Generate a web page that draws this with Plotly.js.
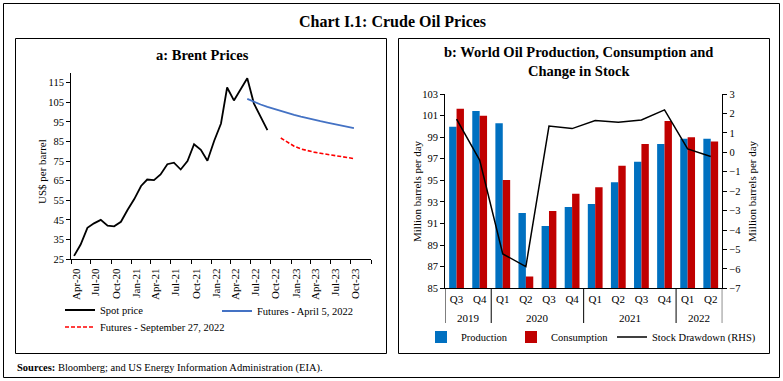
<!DOCTYPE html>
<html><head><meta charset="utf-8">
<script src="https://cdn.plot.ly/plotly-3.0.1.min.js"></script>
<style>html,body{margin:0;padding:0;background:#fff;}#chart{width:783px;height:381px;}</style>
</head><body><div id="chart"></div>
<script>
// ---- Panel a: Brent prices (US$ per barrel), monthly ----
const spotMonths = ['2020-04-15','2020-05-15','2020-06-15','2020-07-15','2020-08-15','2020-09-15','2020-10-15','2020-11-15','2020-12-15',
  '2021-01-15','2021-02-15','2021-03-15','2021-04-15','2021-05-15','2021-06-15','2021-07-15','2021-08-15','2021-09-15','2021-10-15','2021-11-15','2021-12-15',
  '2022-01-15','2022-02-15','2022-03-15','2022-04-15','2022-05-15','2022-06-15','2022-07-15','2022-08-15','2022-09-15'];
const spotPrice = [26.6,32.4,40.9,43.2,45.0,42.0,41.7,44.0,50.0,55.6,62.3,65.6,65.3,68.2,73.4,74.2,70.7,75.0,83.6,80.8,75.2,85.4,94.2,112.6,106.0,111.7,117.3,104.5,97.5,90.8];

const futAprMonths = ['2022-06-15','2022-07-15','2022-08-15','2022-09-15','2022-10-15','2022-11-15','2022-12-15',
  '2023-01-15','2023-02-15','2023-03-15','2023-04-15','2023-05-15','2023-06-15','2023-07-15','2023-08-15','2023-09-15','2023-10-15'];
const futAprPrice = [106.8,105.3,103.9,102.7,101.6,100.5,99.5,98.6,97.7,96.9,96.1,95.4,94.7,94.0,93.3,92.6,91.8];

const futSepMonths = ['2022-11-15','2022-12-15','2023-01-15','2023-02-15','2023-03-15','2023-04-15','2023-05-15','2023-06-15','2023-07-15','2023-08-15','2023-09-15','2023-10-15'];
const futSepPrice = [86.8,84.6,82.6,81.2,80.3,79.6,79.0,78.4,77.9,77.3,76.8,76.3];

const aTickVals = ['2020-04-01','2020-07-01','2020-10-01','2021-01-01','2021-04-01','2021-07-01','2021-10-01','2022-01-01','2022-04-01','2022-07-01','2022-10-01','2023-01-01','2023-04-01','2023-07-01','2023-10-01','2024-01-01'];
const aTickText = ['Apr-20','Jul-20','Oct-20','Jan-21','Apr-21','Jul-21','Oct-21','Jan-22','Apr-22','Jul-22','Oct-22','Jan-23','Apr-23','Jul-23','Oct-23',''];

// ---- Panel b: World oil production, consumption (mb/d) and stock drawdown (RHS) ----
const years    = ['2019','2019','2020','2020','2020','2020','2021','2021','2021','2021','2022','2022'];
const quarters = ['Q3','Q4','Q1','Q2','Q3','Q4','Q1','Q2','Q3','Q4','Q1','Q2'];
const production  = [99.97,101.43,100.28,91.98,90.78,92.54,92.81,94.82,96.73,98.37,98.85,98.85];
const consumption = [101.64,100.99,95.04,86.09,92.17,93.77,94.36,96.36,98.37,100.50,99.00,98.60];
const drawdown    = [1.71,-0.40,-5.23,-5.88,1.35,1.22,1.63,1.54,1.66,2.18,0.17,-0.22];

// unique category key per quarter, labelled with the quarter only
const periods = years.map((y, i) => y + ' ' + quarters[i]);

const W = 783, H = 381;
const px = v => v / W, py = v => 1 - v / H;
const FONT = 'Liberation Serif, Times New Roman, serif';
const f = (s, extra) => Object.assign({family: FONT, size: s, color: '#000'}, extra || {});

const traces = [
  {x: spotMonths, y: spotPrice, type: 'scatter', mode: 'lines', name: 'Spot price',
   line: {color: '#000', width: 1.8}, xaxis: 'x', yaxis: 'y', legend: 'legend'},
  {x: futAprMonths, y: futAprPrice, type: 'scatter', mode: 'lines', name: 'Futures - April 5, 2022',
   line: {color: '#4472C4', width: 1.8}, xaxis: 'x', yaxis: 'y', legend: 'legend2'},
  {x: futSepMonths, y: futSepPrice, type: 'scatter', mode: 'lines', name: 'Futures - September 27, 2022',
   line: {color: '#FF0000', width: 1.6, dash: '4px,2px'}, xaxis: 'x', yaxis: 'y', legend: 'legend3'},
  {x: periods, y: production, type: 'bar', name: 'Production',
   marker: {color: '#0070C0'}, xaxis: 'x2', yaxis: 'y2', legend: 'legend4'},
  {x: periods, y: consumption, type: 'bar', name: 'Consumption',
   marker: {color: '#C00000'}, xaxis: 'x2', yaxis: 'y2', legend: 'legend5'},
  {x: periods, y: drawdown, type: 'scatter', mode: 'lines', name: 'Stock Drawdown (RHS)',
   line: {color: '#000', width: 1.5}, xaxis: 'x2', yaxis: 'y3', legend: 'legend6'}
];

const legBase = (x, y) => ({x: px(x), y: py(y), xanchor: 'left', yanchor: 'middle', xref: 'paper', yref: 'paper',
  bgcolor: 'rgba(0,0,0,0)', borderwidth: 0, font: f(10.5), orientation: 'h'});

const axLine = {showline: true, linecolor: '#000', linewidth: 1, ticks: 'outside', ticklen: 4, tickcolor: '#000',
  showgrid: false, zeroline: false, tickfont: f(10.5)};

const ann = (text, x, y, size, extra) => Object.assign({text: text, x: px(x), y: py(y), xref: 'paper', yref: 'paper',
  xanchor: 'center', yanchor: 'middle', showarrow: false, font: f(size)}, extra || {});

// year group labels and dividers below the quarter labels (built from the years array)
const groups = [];
years.forEach((y, i) => {
  if (!groups.length || groups[groups.length - 1].year !== y) groups.push({year: y, start: i, end: i});
  else groups[groups.length - 1].end = i;
});
const yearAnns = groups.map(g => ({text: g.year, x: (g.start + g.end) / 2, xref: 'x2', y: py(318), yref: 'paper',
  xanchor: 'center', yanchor: 'middle', showarrow: false, font: f(11)}));
const dividerX = [groups[0].start - 0.5].concat(groups.map(g => g.end + 0.5));
const dividers = dividerX.map(x => ({type: 'line', xref: 'x2', yref: 'paper', x0: x, x1: x,
  y0: py(288.3), y1: py(323), line: {color: '#000', width: 1}}));

const layout = {
  width: W, height: H, margin: {l: 0, r: 0, t: 0, b: 0},
  paper_bgcolor: '#fff', plot_bgcolor: 'rgba(0,0,0,0)',
  font: f(10), showlegend: true,
  barmode: 'group', bargap: 0.36, bargroupgap: 0,
  xaxis: Object.assign({}, axLine, {domain: [px(71), px(371)], anchor: 'y', type: 'date',
    range: ['2020-04-01', '2024-01-01'], tickmode: 'array', tickvals: aTickVals, ticktext: aTickText,
    tickangle: -90, ticklabelshift: 5, tickfont: f(11)}),
  yaxis: Object.assign({}, axLine, {domain: [py(259), py(73)], anchor: 'x', range: [25, 120],
    tickmode: 'linear', tick0: 25, dtick: 10}),
  xaxis2: Object.assign({}, axLine, {domain: [px(445), px(722.3)], anchor: 'y2', type: 'category',
    categoryorder: 'array', categoryarray: periods, range: [-0.5, periods.length - 0.5],
    tickmode: 'array', tickvals: periods, ticktext: quarters, ticks: '', tickangle: 0, tickfont: f(11)}),
  yaxis2: Object.assign({}, axLine, {domain: [py(288.3), py(94)], anchor: 'x2', range: [85, 103],
    tickmode: 'linear', tick0: 85, dtick: 2}),
  yaxis3: Object.assign({}, axLine, {overlaying: 'y2', side: 'right', anchor: 'x2', range: [-7, 3],
    tickmode: 'linear', tick0: -7, dtick: 1}),
  legend: legBase(60, 310),
  legend2: legBase(217, 311),
  legend3: legBase(60, 327),
  legend4: legBase(421, 337),
  legend5: legBase(511, 337),
  legend6: legBase(612, 337),
  annotations: [
    ann('<b>Chart I.1: Crude Oil Prices</b>', 392, 21, 16),
    ann('<b>a: Brent Prices</b>', 202, 55, 14.5),
    ann('<b>b: World Oil Production, Consumption and<br>Change in Stock</b>', 578, 62, 14.5),
    ann('US$ per barrel', 42, 172, 11, {textangle: -90}),
    ann('Million barrels per day', 417, 191, 11, {textangle: -90}),
    ann('Million barrels per day', 752, 191, 11, {textangle: -90}),
    ann('<b>Sources:</b> Bloomberg; and US Energy Information Administration (EIA).', 15, 368, 10.5, {xanchor: 'left'})
  ].concat(yearAnns),
  shapes: [
    {type: 'rect', xref: 'paper', yref: 'paper', x0: px(3.5), x1: px(779.5), y0: py(3.5), y1: py(377.5), line: {color: '#000', width: 1}},
    {type: 'rect', xref: 'paper', yref: 'paper', x0: px(15.5), x1: px(386.5), y0: py(38.5), y1: py(353.5), line: {color: '#000', width: 1}},
    {type: 'rect', xref: 'paper', yref: 'paper', x0: px(398.5), x1: px(769.5), y0: py(38.5), y1: py(353.5), line: {color: '#000', width: 1}}
  ].concat(dividers)
};

Plotly.newPlot('chart', traces, layout, {staticPlot: true, displayModeBar: false});
</script></body></html>
